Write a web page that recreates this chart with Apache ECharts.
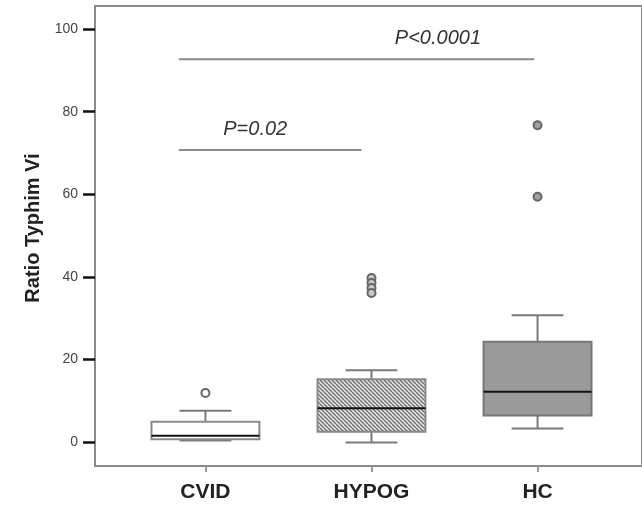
<!DOCTYPE html>
<html><head><meta charset="utf-8">
<script src="https://cdn.jsdelivr.net/npm/echarts@6/dist/echarts.min.js"></script>
<style>html,body{margin:0;padding:0;background:#fff}#c{width:642px;height:507px}</style>
</head><body><div id="c"></div>
<script>
// ---- data ----
const categories = ['CVID', 'HYPOG', 'HC'];
const whiskerLow = [0.4, -0.1, 3.3];
const q1 = [0.7, 2.5, 6.4];
const median = [1.5, 8.2, 12.2];
const q3 = [4.9, 15.2, 24.3];
const whiskerHigh = [7.6, 17.4, 30.7];
const outlierGroup = [0, 1, 1, 1, 1, 2, 2];
const outlierValue = [11.9, 39.7, 38.5, 37.3, 36.1, 59.4, 76.7];
const yTicks = [0, 20, 40, 60, 80, 100];
const sigLabels = ['P=0.02', 'P<0.0001'];
const sigFrom = [-0.16, -0.16];
const sigTo = [0.94, 1.98];
const sigLevel = [70.7, 92.7];
const sigTextPos = [0.30, 1.40];

// ---- styles ----
const FONT = '"Liberation Sans", Arial, Helvetica, sans-serif';
const BOX_W = 0.65;
function hatch() {
  const c = document.createElement('canvas');
  c.width = 4; c.height = 4;
  const g = c.getContext('2d');
  g.fillStyle = '#e2e2e2'; g.fillRect(0, 0, 4, 4);
  g.strokeStyle = '#707070'; g.lineWidth = 1.3;
  g.beginPath();
  for (const k of [-4, 0, 4]) { g.moveTo(k, 0); g.lineTo(k + 4, 4); }
  g.stroke();
  return c;
}
const boxFill = ['#ffffff', { image: hatch(), repeat: 'repeat' }, '#9a9a9a'];
const boxStroke = ['#8a8a8a', '#8a8a8a', '#777777'];
const outlierFill = ['#ffffff', '#c8c8c8', '#a0a0a0'];

const boxData = categories.map((c, i) => [i, whiskerLow[i], q1[i], median[i], q3[i], whiskerHigh[i]]);
const outData = outlierGroup.map((g, i) => [g, outlierValue[i]]);
const sigData = sigLabels.map((s, i) => [sigFrom[i], sigTo[i], sigLevel[i], sigTextPos[i], i]);

function renderBox(params, api) {
  const i = params.dataIndex;
  const x = api.value(0);
  const pLow = api.coord([x, api.value(1)]);
  const pQ1 = api.coord([x, api.value(2)]);
  const pMed = api.coord([x, api.value(3)]);
  const pQ3 = api.coord([x, api.value(4)]);
  const pHigh = api.coord([x, api.value(5)]);
  const w = api.size([BOX_W, 0])[0];
  const cw = w * 0.48;
  const cx = pLow[0];
  const ws = { stroke: '#7a7a7a', lineWidth: 2 };
  return {
    type: 'group',
    children: [
      { type: 'line', shape: { x1: cx, y1: pLow[1], x2: cx, y2: pQ1[1] }, style: ws },
      { type: 'line', shape: { x1: cx, y1: pQ3[1], x2: cx, y2: pHigh[1] }, style: ws },
      { type: 'line', shape: { x1: cx - cw / 2, y1: pLow[1], x2: cx + cw / 2, y2: pLow[1] }, style: ws },
      { type: 'line', shape: { x1: cx - cw / 2, y1: pHigh[1], x2: cx + cw / 2, y2: pHigh[1] }, style: ws },
      { type: 'rect', shape: { x: cx - w / 2, y: pQ3[1], width: w, height: pQ1[1] - pQ3[1] },
        style: { fill: boxFill[i], stroke: boxStroke[i], lineWidth: 2 } },
      { type: 'line', shape: { x1: cx - w / 2, y1: pMed[1], x2: cx + w / 2, y2: pMed[1] },
        style: { stroke: '#111', lineWidth: 2 } }
    ]
  };
}

function renderSig(params, api) {
  const a = api.coord([api.value(0), api.value(2)]);
  const b = api.coord([api.value(1), api.value(2)]);
  const t = api.coord([api.value(3), api.value(2)]);
  return {
    type: 'group',
    children: [
      { type: 'line', shape: { x1: a[0], y1: a[1], x2: b[0], y2: b[1] },
        style: { stroke: '#8a8a8a', lineWidth: 2 } },
      { type: 'text', x: t[0], y: t[1] - 21,
        style: { text: sigLabels[api.value(4)], fill: '#333', fontSize: 20, fontStyle: 'italic',
          fontFamily: FONT, align: 'center', verticalAlign: 'middle',
          textAlign: 'center', textVerticalAlign: 'middle' } }
    ]
  };
}

const chart = echarts.init(document.getElementById('c'), null, { renderer: 'canvas' });
chart.setOption({
  animation: false,
  backgroundColor: '#fff',
  grid: { left: 95, top: 6, right: -3, bottom: 41, show: true, borderColor: '#8a8a8a', borderWidth: 2, backgroundColor: 'transparent' },
  xAxis: {
    type: 'value', min: -0.665, max: 2.629,
    splitLine: { show: false },
    axisLine: { show: true, onZero: false, lineStyle: { color: '#8a8a8a', width: 2 } },
    axisTick: { show: true, customValues: categories.map((c, i) => i), length: 6, lineStyle: { color: '#999', width: 2 } },
    axisLabel: { show: true, customValues: categories.map((c, i) => i), formatter: v => categories[Math.round(v)] || '',
      fontFamily: FONT, fontWeight: 'bold', fontSize: 21, color: '#222', margin: 16 }
  },
  yAxis: {
    type: 'value', min: -5.8, max: 105.6,
    name: 'Ratio Typhim Vi', nameLocation: 'middle', nameGap: 47,
    nameTextStyle: { fontFamily: FONT, fontWeight: 'bold', fontSize: 20, color: '#222', padding: [0, 0, 0, 16] },
    splitLine: { show: false },
    axisLine: { show: true, onZero: false, lineStyle: { color: '#8a8a8a', width: 2 } },
    axisTick: { show: true, customValues: yTicks, length: 12, lineStyle: { color: '#111', width: 2.5 } },
    axisLabel: { show: true, customValues: yTicks, fontFamily: FONT, fontSize: 14, color: '#444', margin: 17 }
  },
  series: [
    { type: 'custom', renderItem: renderBox, data: boxData, encode: { x: 0, y: [1, 2, 3, 4, 5] }, z: 2 },
    { type: 'scatter', data: outData, symbol: 'circle', symbolSize: 8,
      itemStyle: { color: p => outlierFill[p.data[0]], borderColor: '#666', borderWidth: 2, opacity: 1 }, z: 3 },
    { type: 'custom', renderItem: renderSig, data: sigData, encode: { x: [0, 1, 3], y: 2 }, z: 4 }
  ]
});
</script>
</body></html>
